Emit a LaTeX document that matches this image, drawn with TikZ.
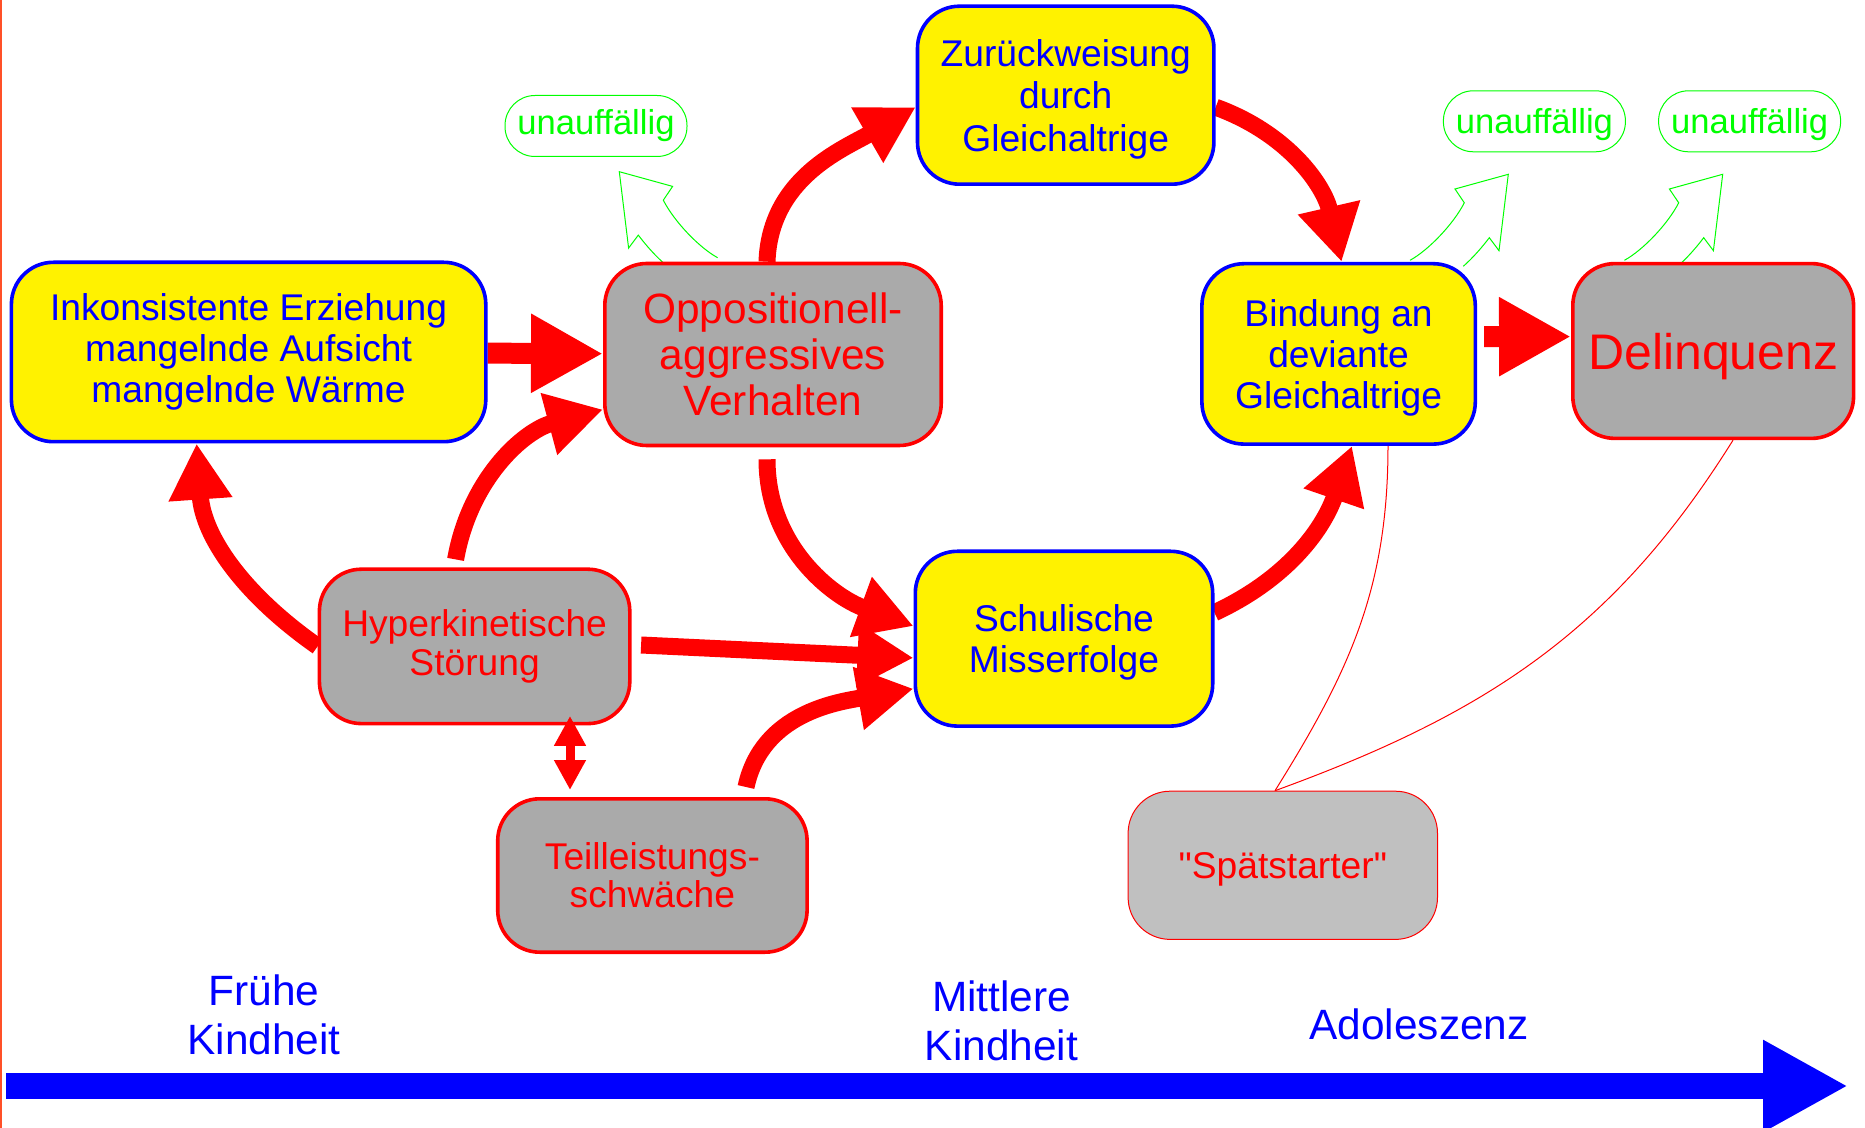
\documentclass[tikz,border=0pt]{standalone}
\usepackage{fontspec}
\setmainfont{Liberation Sans}[Ligatures=TeXOff]
\usetikzlibrary{arrows.meta,backgrounds}

\definecolor{boxgray}{RGB}{170,170,170}
\definecolor{lategray}{RGB}{192,192,192}
\definecolor{leftrule}{RGB}{255,80,40}

\tikzset{
  risk/.style={draw=blue, fill=yellow, line width=1.8pt, rounded corners=21pt, text=blue, align=center, inner sep=0pt, font=\fontsize{18.6}{20.4}\selectfont},
  symptom/.style={draw=red, fill=boxgray, line width=1.8pt, rounded corners=21pt, text=red, align=center, inner sep=0pt, font=\fontsize{18.6}{19.6}\selectfont},
  calm/.style={draw=green, text=green, line width=0.5pt, rounded corners=15pt, minimum width=91pt, minimum height=30.5pt, inner sep=0pt, font=\fontsize{17.3}{19}\selectfont},
  bigarrow/.style={red, line width=10.5pt, -{Triangle[length=36pt,width=37pt]}},
  curvy/.style={red, line width=8.5pt, -{Triangle[length=28pt,width=30pt]}},
  twoway/.style={red, line width=4.5pt, {Triangle[length=15pt,width=15pt]}-{Triangle[length=15pt,width=15pt]}},
  thinline/.style={red, line width=0.5pt},
  timeline/.style={blue, line width=13pt, -{Triangle[length=42.5pt,width=43pt]}},
  timetext/.style={text=blue, align=center, font=\fontsize{21.2}{24.5}\selectfont},
  hollow/.pic={
    \draw[green, line width=0.5pt, line join=miter] (-98.3,86) .. controls (-80,76) and (-55,50) .. (-44,28.5) -- (-53.3,14.7) -- (0,0) -- (-9.3,76.4) -- (-19,63.4) .. controls (-27,74) and (-36,84) .. (-45,92);
  }
}

\begin{document}
\begin{tikzpicture}[x=0.5pt, y=-0.5pt]
  \useasboundingbox (0,0) rectangle (1865,1128);

  \node (erz)[risk, minimum width=237.2pt, minimum height=89.7pt] at (248.6,352) {Inkonsistente Erziehung\\mangelnde Aufsicht\\mangelnde Wärme};
  \node (opp)[symptom, minimum width=168.2pt, minimum height=91pt, font=\fontsize{21.2}{22.9}\selectfont] at (773,354.5) {Oppositionell-\\aggressives\\Verhalten};
  \node (zur)[risk, minimum width=148.2pt, minimum height=89pt, text depth=0pt, font=\fontsize{18.6}{21.2}\selectfont] at (1065.7,95.2) {Zurückweisung\\durch\\Gleichaltrige};
  \node (bind)[risk, minimum width=136.7pt, minimum height=90.2pt, text depth=0pt] at (1338.6,353.9) {Bindung an\\deviante\\Gleichaltrige};
  \node (del)[symptom, minimum width=140.4pt, minimum height=87.4pt, text depth=0pt, font=\fontsize{25}{27}\selectfont] at (1713.2,351) {Delinquenz};
  \node (hyper)[symptom, minimum width=155.2pt, minimum height=77.2pt] at (474.6,646.4) {Hyperkinetische\\Störung};
  \node (schul)[risk, minimum width=148.7pt, minimum height=87.4pt, text depth=0pt, font=\fontsize{18.6}{20.8}\selectfont] at (1064,638.7) {Schulische\\Misserfolge};
  \node (teil)[symptom, minimum width=154.7pt, minimum height=76.7pt, font=\fontsize{18.6}{19}\selectfont] at (652.4,875.5) {Teilleistungs-\\schwäche};
  \node (spaet)[symptom, fill=lategray, line width=0.5pt, minimum width=154.7pt, minimum height=74.1pt, text depth=0pt] at (1282.8,865.3) {"Spätstarter"};

  \node (calmA)[calm] at (596,126) {unauffällig};
  \node (calmB)[calm, text depth=0pt] at (1534.4,121.3) {unauffällig};
  \node (calmC)[calm, text depth=0pt] at (1749.6,121.3) {unauffällig};

  \node (fruh)[timetext] at (264,1015) {Frühe\\Kindheit};
  \node (mitte)[timetext] at (1001.5,1020.5) {Mittlere\\Kindheit};
  \node (adol)[timetext] at (1419,1024) {Adoleszenz};

  \begin{scope}[on background layer]
    \pic[xscale=-1] at (619.3,171.7) {hollow};
    \pic at (1508.3,174.3) {hollow};
    \pic at (1722.7,174.3) {hollow};

    \draw[bigarrow] (erz) -- (opp);
    \draw[bigarrow] ([shift={(3.5pt,8.6pt)}]bind.east) -- ([yshift=7.2pt]del.west);
    \draw[curvy] ([shift={(-9.5pt,4pt)}]hyper.north) to[out=80,in=195] ([yshift=-27.5pt]opp.west);
    \draw[curvy] (hyper.west) to[out=145,in=-86] ([xshift=-26pt]erz.south);
    \draw[curvy] ([shift={(-3pt,-6pt)}]opp.south) to[out=-90,in=160] ([yshift=6.3pt]schul.west);
    \draw[curvy] ([shift={(4.75pt,0.7pt)}]hyper.east) -- ([yshift=-9.6pt]schul.west);
    \draw[curvy] ([shift={(46.8pt,5pt)}]teil.north) to[out=78,in=190] ([yshift=-25pt]schul.west);
    \draw[curvy] ([yshift=13pt]schul.east) to[out=25,in=-109] ([xshift=6.7pt]bind.south);
    \draw[curvy] ([xshift=-3pt]opp.north) to[out=88,in=210] ([yshift=-6pt]zur.west);
    \draw[curvy] ([yshift=-6pt]zur.east) to[out=-20,in=103] ([xshift=1.5pt]bind.north);

    \draw[thinline] ([xshift=24.7pt]bind.south) to[out=-90,in=58] ([xshift=-3.9pt]spaet.north);
    \draw[thinline] ([xshift=9.9pt]del.south) to[out=-122,in=20] ([xshift=-3.9pt]spaet.north);
  \end{scope}

  \draw[twoway] ([shift={(47.7pt,4.75pt)}]hyper.south) -- ([shift={(-41.2pt,3.5pt)}]teil.north);

  \coordinate (tstart) at (6,1086);
  \coordinate (tend) at (1848,1086);
  \draw[timeline] (tstart) -- (tend);

  \draw[leftrule, line width=1pt] (1,0) -- (1,1128);
\end{tikzpicture}
\end{document}
